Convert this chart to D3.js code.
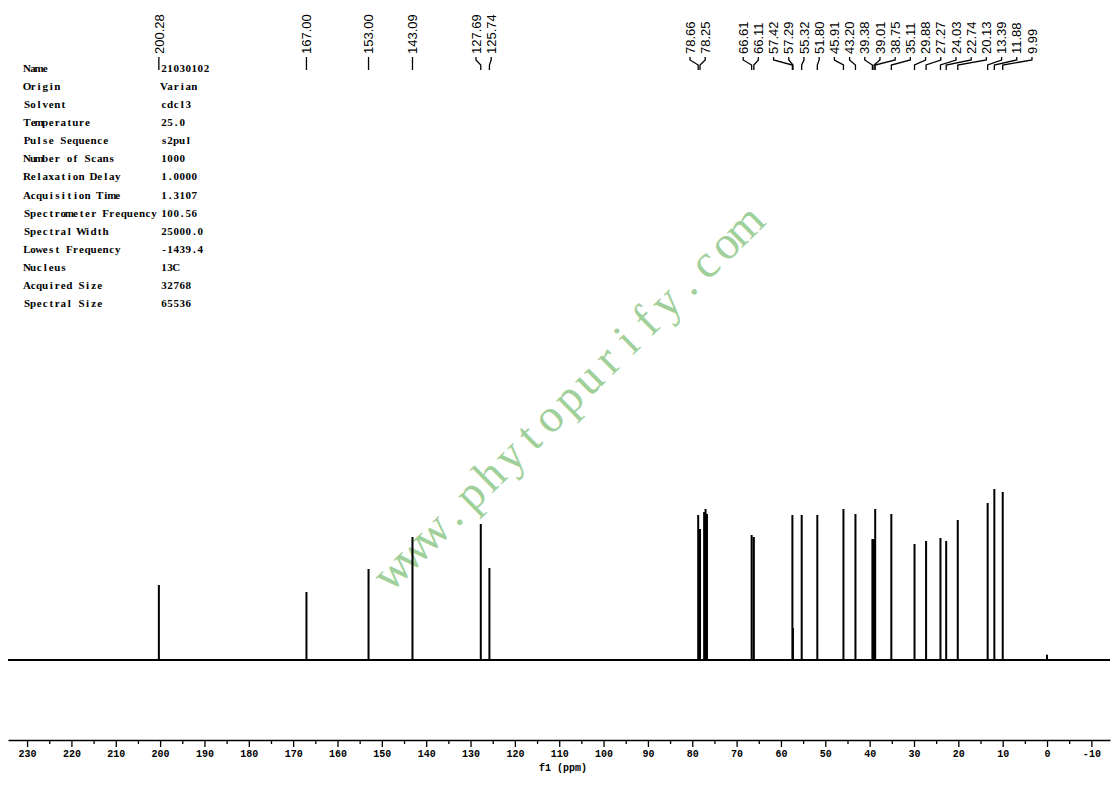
<!DOCTYPE html>
<html><head><meta charset="utf-8">
<script src="https://cdn.jsdelivr.net/npm/d3@7"></script>
<style>html,body{margin:0;padding:0;background:#fff;} svg{display:block}</style>
</head><body><svg id="chart" width="1117" height="787"></svg>
<script>
// ---- data ----
const peakPpm = [200.28,167.00,153.00,143.09,127.69,125.74,78.66,78.25,66.61,66.11,57.42,57.29,55.32,51.80,45.91,43.20,39.38,39.01,38.75,35.11,29.88,27.27,24.03,22.74,20.13,13.39,11.88,9.99];
const peakLabels = ["200.28","167.00","153.00","143.09","127.69","125.74","78.66","78.25","66.61","66.11","57.42","57.29","55.32","51.80","45.91","43.20","39.38","39.01","38.75","35.11","29.88","27.27","24.03","22.74","20.13","13.39","11.88","9.99"];
const peakIntensity = [43.9,39.8,53.2,71.9,79.5,53.8,84.8,76.6,73.1,71.9,84.8,18.7,84.8,84.8,88.3,85.4,70.8,70.8,88.3,85.4,67.8,69.6,71.3,69.6,81.9,91.8,100,98.2];
const solventPpm = [77.32,77.00,76.68,0.00];
const solventIntensity = [86.5,88.3,85.4,3.0];
const majorTicks = [230,220,210,200,190,180,170,160,150,140,130,120,110,100,90,80,70,60,50,40,30,20,10,0,-10];
const minorTicks = [225,215,205,195,185,175,165,155,145,135,125,115,105,95,85,75,65,55,45,35,25,15,5,-5];
const paramNames = ["Name","Origin","Solvent","Temperature","Pulse Sequence","Number of Scans","Relaxation Delay","Acquisition Time","Spectrometer Frequency","Spectral Width","Lowest Frequency","Nucleus","Acquired Size","Spectral Size"];
const paramValues = ["21030102","Varian","cdcl3","25.0","s2pul","1000","1.0000","1.3107","100.56","25000.0","-1439.4","13C","32768","65536"];
const axisTitle = "f1 (ppm)";
const watermark = "www.phytopurify.com";

// ---- layout ----
const svg = d3.select("#chart");
svg.append("rect").attr("width",1117).attr("height",787).attr("fill","#fff");
const x = d3.scaleLinear().domain([234.3,-14.2]).range([8,1110]);
const y = d3.scaleLinear().domain([0,100]).range([660,489]);

// fixed-pitch serif text: each glyph centred in its own cell
function monoText(g, str, x0, y0, pitch){
  const xs = Array.from(str, (c,k)=> (x0 + pitch*k + pitch/2).toFixed(2)).join(" ");
  return g.append("text").attr("x", xs).attr("y", y0).attr("text-anchor","middle").text(str);
}

// watermark
const wm = svg.append("g").attr("transform","translate(568,398) rotate(-44.5)")
  .style("font-family","'Liberation Serif', 'DejaVu Serif', serif").style("font-size","47px")
  .attr("fill","#9fd09a");
monoText(wm, watermark, -watermark.length*27.4/2, 15, 27.4);

// parameter table
const tbl = svg.append("g").style("font-family","'Liberation Serif', serif").style("font-size","11px").style("font-weight","bold");
paramNames.forEach((n,i)=>{
  monoText(tbl, n, 24, 72+i*18.08, 6.05);
  monoText(tbl, paramValues[i], 161, 72+i*18.08, 6.05);
});

// spectrum
const all = peakPpm.map((p,i)=>({p,h:peakIntensity[i]}))
  .concat(solventPpm.map((p,i)=>({p,h:solventIntensity[i]})))
  .sort((a,b)=>b.p-a.p);
const pts = [[x.domain()[0],0]];
all.forEach(d=>{ pts.push([d.p,0],[d.p,d.h],[d.p,0]); });
pts.push([x.domain()[1],0]);
svg.append("path")
  .attr("d", d3.line().x(d=>x(d[0])).y(d=>y(d[1]))(pts))
  .attr("fill","none").attr("stroke","#000").attr("stroke-width",2).attr("stroke-linejoin","miter");

// axis
const ax = svg.append("g").attr("transform","translate(0,740)")
  .call(d3.axisBottom(x).tickValues(majorTicks).tickSize(7).tickSizeOuter(0).tickFormat(d=>String(d)));
ax.select(".domain").attr("stroke-width",1.5);
ax.selectAll(".tick line").attr("stroke-width",1.3);
ax.selectAll("text").style("font-family","'Liberation Mono', monospace").style("font-size","10px").style("font-weight","bold").attr("fill","#000");
const ax2 = svg.append("g").attr("transform","translate(0,740)")
  .call(d3.axisBottom(x).tickValues(minorTicks).tickSize(4).tickSizeOuter(0).tickFormat(""));
ax2.select(".domain").remove();
ax2.selectAll(".tick line").attr("stroke-width",1.3);
svg.append("text").attr("x",563).attr("y",771).attr("text-anchor","middle")
  .style("font-family","'Liberation Mono', monospace").style("font-size","10px").style("font-weight","bold")
  .text(axisTitle);

// peak label layout: clusters of labels with minimum spacing
const spacing = 15.2;
const order = peakPpm.map((p,i)=>({i, t:x(p)})).sort((a,b)=>a.t-b.t);
let clusters = order.map(o=>({m:[o], c:o.t}));
function left(cl){return cl.c-(cl.m.length-1)/2*spacing;}
function right(cl){return cl.c+(cl.m.length-1)/2*spacing;}
let changed=true;
while(changed){
  changed=false;
  for(let k=0;k<clusters.length-1;k++){
    const A=clusters[k],B=clusters[k+1];
    if(right(A)+spacing>left(B)){
      const m=A.m.concat(B.m);
      clusters.splice(k,2,{m, c:d3.mean(m,d=>d.t)});
      changed=true;break;
    }
  }
}
const labelX = new Array(peakPpm.length);
clusters.forEach(cl=>{
  const bias = cl.m.length>4 ? 8 : (cl.m.length>1 ? -1.5 : 0);
  cl.m.forEach((o,j)=>{ labelX[o.i] = left(cl)+bias+j*spacing; });
});

const lab = svg.append("g");
peakPpm.forEach((p,i)=>{
  const lx=labelX[i], px=x(p);
  lab.append("text")
    .attr("transform",`translate(${lx},54) rotate(-90)`)
    .attr("dy","0.36em")
    .style("font-family","'Liberation Sans', Arial, sans-serif").style("font-size","13px")
    .attr("fill","#000").text(peakLabels[i]);
  lab.append("path")
    .attr("d", d3.line()([[lx,57],[lx,60],[px,65],[px,70]]))
    .attr("fill","none").attr("stroke","#000").attr("stroke-width",1.3);
});
</script></body></html>
